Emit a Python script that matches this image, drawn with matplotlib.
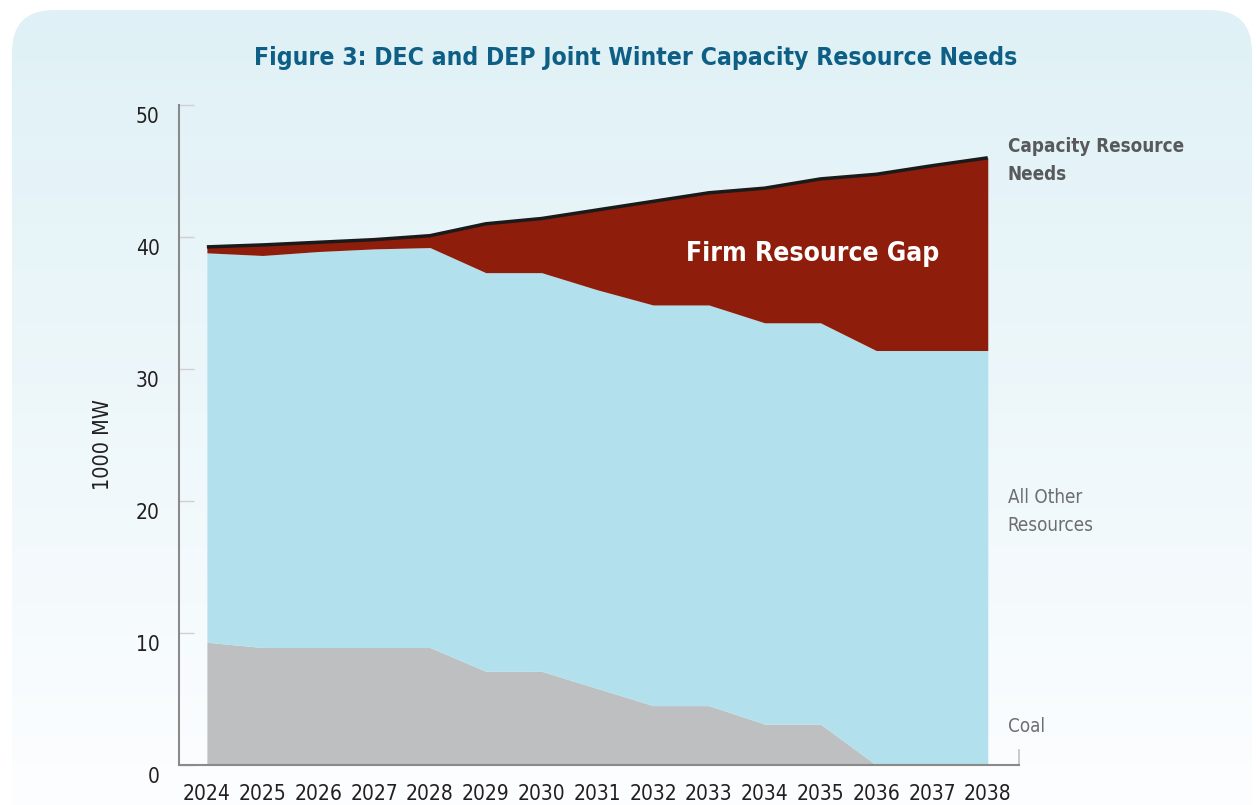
import numpy as np
import matplotlib.pyplot as plt
from matplotlib.patches import FancyBboxPatch
from matplotlib.transforms import ScaledTranslation

# Daten (1000 MW)
years = [2024, 2025, 2026, 2027, 2028, 2029, 2030, 2031, 2032, 2033, 2034, 2035, 2036, 2037, 2038]
coal = [9.3, 8.9, 8.9, 8.9, 8.9, 7.1, 7.1, 5.8, 4.5, 4.5, 3.1, 3.1, 0, 0, 0]
all_other = [29.5, 29.7, 30.0, 30.2, 30.3, 30.2, 30.2, 30.2, 30.35, 30.35, 30.4, 30.4, 31.4, 31.4, 31.4]
needs = [39.25, 39.4, 39.6, 39.8, 40.1, 41.0, 41.4, 42.05, 42.7, 43.35, 43.7, 44.4, 44.75, 45.4, 46.0]
y_ticks = [0, 10, 20, 30, 40, 50]

plt.rcParams['font.family'] = ['DejaVu Sans']
plt.rcParams['font.stretch'] = 'condensed'

coal = np.array(coal)
top = coal + np.array(all_other)
needs = np.array(needs)

fig = plt.figure(figsize=(12.56, 8.05), dpi=100)

# Hintergrund mit abgerundeter Box und Verlauf
bg = fig.add_axes([0, 0, 1, 1])
bg.set_xlim(0, 1256)
bg.set_ylim(805, 0)
bg.axis('off')
box = FancyBboxPatch((12, 10), 1240, 900, boxstyle='round,pad=0,rounding_size=42',
                     facecolor='none', edgecolor='none')
bg.add_patch(box)
grad = np.linspace(0, 1, 256).reshape(-1, 1)
c_top = np.array([0.875, 0.945, 0.965])
c_bot = np.array([0.99, 0.995, 1.0])
img = c_top + (c_bot - c_top) * grad[..., None]
im = bg.imshow(img, extent=(0, 1256, 805, 10), aspect='auto', zorder=0)
im.set_clip_path(box)

fig.text(0.506, 0.928, 'Figure 3: DEC and DEP Joint Winter Capacity Resource Needs',
         ha='center', va='center', fontsize=17.7, fontweight='bold', color='#0d5f85')

ax = fig.add_axes([179 / 1256, 1 - 765 / 805, (1019 - 179) / 1256, 660 / 805])
ax.set_facecolor('none')

ax.fill_between(years, 0, coal, color='#bebfc1', linewidth=0)
ax.fill_between(years, coal, top, color='#b2e0ec', linewidth=0)
ax.fill_between(years, top, needs, color='#8f1d0b', linewidth=0)
ax.plot(years, needs, color='#1a1a1a', linewidth=2.5, solid_capstyle='butt')

ax.set_xlim(2023.5, 2038.56)
ax.set_ylim(0, 50)
ax.set_xticks(years)
ax.set_xticklabels([str(y) for y in years])
ax.set_yticks(y_ticks)
ax.tick_params(axis='x', length=0, pad=14, labelsize=15, labelcolor='#231f20')
ax.tick_params(axis='y', direction='in', length=11, width=1, color='#d0d0d0',
               pad=14, labelsize=15, labelcolor='#231f20')
for lab in ax.get_yticklabels():
    lab.set_transform(lab.get_transform() + ScaledTranslation(0, -0.1, fig.dpi_scale_trans))

for s in ['top', 'right']:
    ax.spines[s].set_visible(False)
for s in ['left', 'bottom']:
    ax.spines[s].set_color('#8a8a8a')
    ax.spines[s].set_linewidth(1.5)
ax.plot([1, 1], [0, 15 / 660], transform=ax.transAxes, color='#c0c0c0', lw=1.2, clip_on=False)

ax.set_ylabel('1000 MW', fontsize=15.5, color='#231f20')
ax.yaxis.set_label_coords(-0.078, 0.485)

ax.text(2034.86, 38.7, 'Firm Resource Gap', ha='center', va='center',
        fontsize=19, fontweight='bold', color='white')
lab_x = 2038.36
ax.text(lab_x, 45.8, 'Capacity Resource\nNeeds', ha='left', va='center', fontsize=13.5,
        fontweight='bold', color='#58595b', linespacing=1.55, clip_on=False)
ax.text(lab_x, 19.2, 'All Other\nResources', ha='left', va='center', fontsize=13.5,
        color='#6d6e71', linespacing=1.55, clip_on=False)
ax.text(lab_x, 2.9, 'Coal', ha='left', va='center', fontsize=13.5,
        color='#6d6e71', clip_on=False)

fig.savefig('out.png', dpi=100)
